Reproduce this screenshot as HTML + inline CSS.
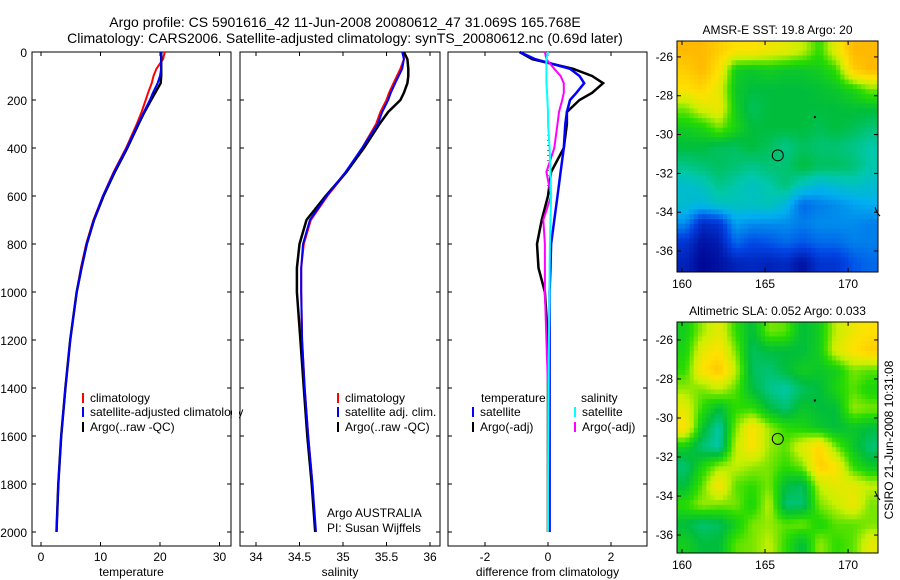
<!DOCTYPE html>
<html><head><meta charset="utf-8"><style>
html,body{margin:0;padding:0;background:#fff}
svg{display:block;font-family:"Liberation Sans",sans-serif}
</style></head><body>
<svg id="s" width="900" height="580" viewBox="0 0 900 580">
<text x="345" y="27" font-size="14" text-anchor="middle">Argo profile: CS 5901616_42 11-Jun-2008 20080612_47 31.069S 165.768E</text>
<text x="345" y="43" font-size="14" text-anchor="middle">Climatology: CARS2006. Satellite-adjusted climatology: synTS_20080612.nc (0.69d later)</text>
<g id="g"></g>
</svg>
<script>
// ---- data ----
const depths=[0,30,70,100,130,170,200,250,300,400,500,600,700,800,900,1000,1200,1400,1600,1800,2000];
const tempArgo=[20.2,20.2,20.2,20.2,20.1,19.2,18.5,17.4,16.4,14.5,12.4,10.5,8.9,7.7,6.8,6.0,4.9,4.1,3.4,2.9,2.6];
const tempClim=[20.8,20.5,19.4,18.9,18.6,18.0,17.6,16.9,16.1,14.3,12.2,10.4,8.8,7.6,6.7,6.0,4.9,4.1,3.4,2.9,2.6];
const tempSat=[20.2,20.2,20.2,20.0,19.6,18.8,18.3,17.3,16.3,14.4,12.3,10.4,8.9,7.7,6.8,6.0,4.9,4.1,3.4,2.9,2.6];
const salArgo=[35.70,35.74,35.75,35.75,35.74,35.70,35.66,35.52,35.42,35.24,35.04,34.80,34.58,34.50,34.47,34.47,34.51,34.55,34.59,34.64,34.68];
const salClim=[35.70,35.70,35.66,35.62,35.58,35.53,35.50,35.43,35.38,35.22,35.04,34.82,34.63,34.55,34.52,34.52,34.53,34.56,34.60,34.65,34.68];
const salSat=[35.68,35.70,35.68,35.64,35.60,35.55,35.52,35.45,35.40,35.22,35.03,34.81,34.62,34.54,34.52,34.52,34.53,34.56,34.60,34.65,34.69];
const dTempArgo=[-0.9,-0.5,0.8,1.4,1.75,1.4,1.0,0.6,0.6,0.5,0.1,0.0,-0.2,-0.35,-0.3,-0.1,0,0,0,0,0];
const dTempSat=[-0.9,-0.4,0.7,1.0,1.15,0.9,0.7,0.6,0.55,0.5,0.4,0.3,0.2,0.1,0.08,0.05,0.05,0.05,0.05,0.05,0.05];
const dSalArgo=[-0.1,-0.05,0.2,0.4,0.5,0.5,0.45,0.35,0.3,0.2,-0.05,0.1,-0.15,-0.1,-0.1,-0.1,-0.05,0,0,0,0];
const dSalSat=[0,-0.05,-0.05,-0.05,-0.05,-0.03,-0.02,0,0,0.05,0.08,0.1,0.08,0.06,0.05,0.05,0.03,0.02,0.01,0,0];
const depthTicks=[0,200,400,600,800,1000,1200,1400,1600,1800,2000];
const tempTicks=[0,10,20,30];
const salTicks=[34,34.5,35,35.5,36];
const diffTicks=[-2,0,2];
const latTicks=[-26,-28,-30,-32,-34,-36];
const lonTicks=[160,165,170];
const sstGrid=[
[0.95,0.95,0.9,0.85,0.85,0.82,0.8,0.75,0.65,0.8,0.95,0.95],
[0.9,0.95,0.85,0.6,0.58,0.6,0.58,0.58,0.6,0.65,0.9,0.95],
[0.85,0.88,0.8,0.58,0.55,0.55,0.55,0.55,0.56,0.58,0.62,0.7],
[0.7,0.78,0.82,0.6,0.52,0.55,0.55,0.55,0.55,0.55,0.56,0.56],
[0.6,0.62,0.7,0.62,0.55,0.55,0.55,0.55,0.53,0.55,0.53,0.5],
[0.55,0.55,0.52,0.52,0.55,0.52,0.48,0.52,0.5,0.5,0.48,0.45],
[0.48,0.5,0.52,0.5,0.48,0.5,0.5,0.55,0.52,0.52,0.5,0.45],
[0.4,0.42,0.48,0.45,0.42,0.45,0.5,0.42,0.38,0.4,0.42,0.4],
[0.4,0.38,0.42,0.42,0.42,0.43,0.38,0.25,0.28,0.3,0.33,0.35],
[0.3,0.12,0.15,0.33,0.3,0.3,0.3,0.28,0.3,0.3,0.3,0.28],
[0.15,0.05,0.08,0.25,0.2,0.22,0.25,0.22,0.25,0.25,0.28,0.28],
[0.1,0.02,0.05,0.1,0.12,0.1,0.12,0.05,0.15,0.15,0.22,0.25]];
const slaGrid=[
[0.6,0.72,0.8,0.65,0.55,0.7,0.68,0.55,0.6,0.75,0.82,0.85],
[0.62,0.8,0.85,0.7,0.52,0.55,0.55,0.55,0.6,0.78,0.85,0.9],
[0.65,0.85,0.92,0.75,0.52,0.5,0.55,0.6,0.58,0.6,0.7,0.68],
[0.72,0.7,0.75,0.68,0.55,0.48,0.45,0.52,0.55,0.62,0.68,0.62],
[0.8,0.65,0.55,0.65,0.65,0.55,0.5,0.58,0.55,0.55,0.72,0.7],
[0.85,0.58,0.45,0.7,0.85,0.72,0.65,0.62,0.58,0.55,0.58,0.55],
[0.6,0.5,0.45,0.75,0.85,0.72,0.68,0.8,0.88,0.7,0.58,0.5],
[0.5,0.62,0.72,0.75,0.72,0.7,0.65,0.7,0.9,0.85,0.65,0.58],
[0.55,0.68,0.85,0.68,0.65,0.7,0.55,0.52,0.75,0.8,0.8,0.75],
[0.65,0.72,0.7,0.7,0.62,0.75,0.5,0.5,0.7,0.75,0.82,0.7],
[0.55,0.5,0.52,0.6,0.7,0.72,0.68,0.7,0.62,0.68,0.68,0.7],
[0.6,0.55,0.55,0.68,0.7,0.75,0.65,0.55,0.72,0.65,0.68,0.8]];
const floatLon=165.768, floatLat=-31.069;

// ---- drawing ----
const NS='http://www.w3.org/2000/svg', G=document.getElementById('g');
function el(t,a,p){const e=document.createElementNS(NS,t);for(const k in a)e.setAttribute(k,a[k]);(p||G).appendChild(e);return e;}
function yD(d){return 52+d*0.24;}
function txt(x,y,s,anchor,size,p){const t=el('text',{x:x,y:y,'font-size':size||12,'text-anchor':anchor||'middle'},p);t.textContent=s;return t;}
function panel(x0,x1,name,vx,xt,xlabel){
  const b=el('rect',{x:x0,y:52,width:x1-x0,height:494,fill:'none',stroke:'#000','stroke-width':1});
  
  
  depthTicks.forEach(d=>{const y=yD(d);el('line',{x1:x0,x2:x0+4,y1:y,y2:y,stroke:'#000'});el('line',{x1:x1-4,x2:x1,y1:y,y2:y,stroke:'#000'});});
  xt.forEach(v=>{const x=vx(v);el('line',{x1:x,x2:x,y1:546,y2:542,stroke:'#000'});el('line',{x1:x,x2:x,y1:52,y2:56,stroke:'#000'});
    const t=txt(x,561,String(v));});
  const l=txt((x0+x1)/2,576,xlabel);
}
function line(vals,vx,color,w,name,dash){
  const d=vals.map((v,i)=>(i?'L':'M')+vx(v).toFixed(1)+' '+yD(depths[i]).toFixed(1)).join(' ');
  const p=el('path',{d:d,fill:'none',stroke:color,'stroke-width':w||2});
  if(dash)p.setAttribute('stroke-dasharray',dash);
  
  
}
const vT=v=>41+v*5.95, vS=v=>256+(v-34)*87, vD=v=>548+v*31.5;
panel(32,231,'temperature-panel',vT,tempTicks,'temperature');
panel(240,440,'salinity-panel',vS,salTicks,'salinity');
panel(448,647,'difference-panel',vD,diffTicks,'difference from climatology');
depthTicks.forEach(d=>{const t=txt(27,yD(d)+5,String(d),'end',12);});
line(tempClim,vT,'#f00',2,'temp-climatology-line');
line(tempArgo,vT,'#000',2.5,'temp-argo-line');
line(tempSat,vT,'#00f',2,'temp-satellite-line');
line(salClim,vS,'#f00',2,'sal-climatology-line');
line(salArgo,vS,'#000',2.5,'sal-argo-line');
line(salSat,vS,'#00f',2,'sal-satellite-line');
el('line',{x1:548,x2:548,y1:yD(200),y2:yD(600),stroke:'#000','stroke-dasharray':'1 4'});
line(dTempArgo,vD,'#000',2.5,'diff-temp-argo-line');
line(dTempSat,vD,'#00f',2.5,'diff-temp-satellite-line');
line(dSalArgo,vD,'#f0f',2,'diff-sal-argo-line');
line(dSalSat,vD,'#0ff',2,'diff-sal-satellite-line');
// legends
function leg(x,y,color,label,name){
  el('line',{x1:x,x2:x,y1:y-9,y2:y+1,stroke:color,'stroke-width':2});
  const t=txt(x+7,y,label,'start',12);
  
  
}
leg(83,402,'#f00','climatology','legend-climatology');
leg(83,416,'#00f','satellite-adjusted climatology','legend-satellite-adjusted');
leg(83,431,'#000','Argo(..raw -QC)','legend-argo');
el('rect',{x:232,y:405,width:7,height:14,fill:'#fff'});
el('line',{x1:240,x2:240,y1:52,y2:546,stroke:'#000'});
leg(338,402,'#f00','climatology','legend2-climatology');
leg(338,416,'#00f','satellite adj. clim.','legend2-satellite');
leg(338,431,'#000','Argo(..raw -QC)','legend2-argo');
let t=txt(327,517,'Argo AUSTRALIA','start',12);
t=txt(327,532,'PI: Susan Wijffels','start',12);
t=txt(481,402,'temperature','start',12);
leg(473,416,'#00f','satellite','legend3-temp-satellite');
leg(473,431,'#000','Argo(-adj)','legend3-temp-argo');
t=txt(581,402,'salinity','start',12);
leg(575,416,'#0ff','satellite','legend3-sal-satellite');
leg(575,431,'#f0f','Argo(-adj)','legend3-sal-argo');
// colormap
const stops=[[0,[0,0,140]],[0.2,[0,70,230]],[0.35,[0,175,240]],[0.45,[0,200,170]],[0.55,[0,190,60]],[0.65,[40,220,0]],[0.75,[200,240,0]],[0.85,[255,225,0]],[1,[255,165,0]]];
function cmap(v){for(let i=1;i<stops.length;i++){if(v<=stops[i][0]){const a=stops[i-1],b=stops[i],f=(v-a[0])/(b[0]-a[0]);return 'rgb('+a[1].map((c,k)=>Math.round(c+f*(b[1][k]-c))).join(',')+')';}}return 'rgb(255,165,0)';}
function sample(grid,r,c){const nr=grid.length,nc=grid[0].length;
  r=Math.max(0,Math.min(nr-1,r));c=Math.max(0,Math.min(nc-1,c));
  const r0=Math.floor(r),c0=Math.floor(c),r1=Math.min(nr-1,r0+1),c1=Math.min(nc-1,c0+1),fr=r-r0,fc=c-c0;
  return grid[r0][c0]*(1-fr)*(1-fc)+grid[r0][c1]*(1-fr)*fc+grid[r1][c0]*fr*(1-fc)+grid[r1][c1]*fr*fc;}
function map(y0,y1,latTop,latBot,grid,title,name){
  const x0=677,x1=878,lonL=159.7,lonR=171.8;
  const lx=v=>x0+(v-lonL)*(x1-x0)/(lonR-lonL), ly=v=>y0+(latTop-v)*(y1-y0)/(latTop-latBot);
  const g=el('g',{});
  
  
  const nr=grid.length,nc=grid[0].length,S=4,NR=nr*S,NC=nc*S,cw=(x1-x0)/NC,ch=(y1-y0)/NR;
  for(let r=0;r<NR;r++)for(let c=0;c<NC;c++){
    const v=sample(grid,(r+0.5)/S-0.5,(c+0.5)/S-0.5);
    el('rect',{x:(x0+c*cw).toFixed(2),y:(y0+r*ch).toFixed(2),width:(cw+0.5).toFixed(2),height:(ch+0.5).toFixed(2),fill:cmap(v)},g);}
  el('rect',{x:x0,y:y0,width:x1-x0,height:y1-y0,fill:'none',stroke:'#000'});
  latTicks.forEach(v=>{const y=ly(v);el('line',{x1:x0,x2:x0+4,y1:y,y2:y,stroke:'#000'});el('line',{x1:x1-4,x2:x1,y1:y,y2:y,stroke:'#000'});
    const tt=txt(x0-4,y+4,String(v),'end',12);});
  lonTicks.forEach(v=>{const x=lx(v);el('line',{x1:x,x2:x,y1:y1,y2:y1-4,stroke:'#000'});el('line',{x1:x,x2:x,y1:y0,y2:y0+4,stroke:'#000'});
    const tt=txt(x,y1+16,String(v),'middle',12);});
  const c=el('circle',{cx:lx(floatLon),cy:ly(floatLat),r:5.5,fill:'none',stroke:'#000'});
  
  
  el('rect',{x:lx(168)-1,y:ly(-29.1)-1,width:2,height:2,fill:'#000'});
  el('path',{d:'M'+(x1-3)+' '+(ly(-34)-5)+' L'+(x1-1)+' '+ly(-34)+' L'+(x1+2)+' '+(ly(-34)+4),fill:'none',stroke:'#000'});
  const tt=txt((x0+x1)/2,y0-7,title,'middle',12);
}
map(41,272,-25.18,-37.08,sstGrid,'AMSR-E SST: 19.8 Argo: 20','sst-map');
map(322,553,-25.08,-36.92,slaGrid,'Altimetric SLA: 0.052 Argo: 0.033','sla-map');
t=txt(0,0,'CSIRO 21-Jun-2008 10:31:08','middle',12);
t.setAttribute('transform','translate(893,440) rotate(-90)');


</script>
</body></html>
